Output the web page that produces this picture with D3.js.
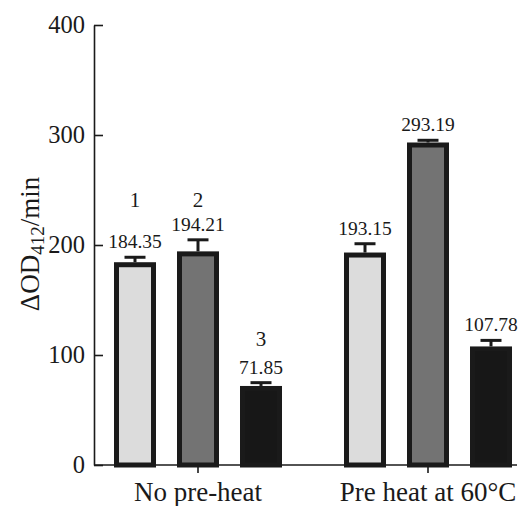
<!DOCTYPE html>
<html>
<head>
<meta charset="utf-8">
<script src="https://cdn.jsdelivr.net/npm/d3@7"></script>
<style>
  body { margin: 0; background: #fff; }
  text { font-family: "Liberation Serif", "DejaVu Serif", serif; fill: #1a1a1a; }
</style>
</head>
<body>
<div id="chart"></div>
<script>
// Data
const groups = ["No pre-heat", "Pre heat at 60°C"];
const series = ["1", "2", "3"];
const seriesColors = ["#dcdcdc", "#737373", "#171717"];
const values = [
  [184.35, 194.21, 71.85],
  [193.15, 293.19, 107.78],
];
const errors = [
  [4.5, 10.5, 3],
  [8, 2, 5.5],
];
// height (in data units) where the series numbers sit above the first group
const seriesLabelAt = [234.5, 234.5, 108];
const yTicks = [0, 100, 200, 300, 400];

// Dimensions
const width = 526;
const height = 506;
const axisX = 94;
const axisEnd = 517;

const svg = d3
  .select("#chart")
  .append("svg")
  .attr("width", width)
  .attr("height", height);

// Scales
const yScale = d3.scaleLinear().domain([0, 400]).range([465, 25]);

const xGroup = d3.scaleBand().domain(groups).range([83, 543]);

const xInner = d3
  .scaleBand()
  .domain(series)
  .range([-84, 84])
  .paddingInner(1 / 3)
  .paddingOuter(0);

const ink = "#1a1a1a";

// Y axis
const yAxis = d3
  .axisLeft(yScale)
  .tickValues(yTicks)
  .tickSizeInner(-9)
  .tickSizeOuter(0)
  .tickPadding(9);

const yG = svg
  .append("g")
  .attr("transform", `translate(${axisX},0)`)
  .call(yAxis);
yG.select(".domain").attr("stroke", ink).attr("stroke-width", 1.6);
yG.selectAll(".tick line").attr("stroke", ink).attr("stroke-width", 1.6);
yG.selectAll(".tick text")
  .style("font-family", "Liberation Serif")
  .style("font-size", "24.5px")
  .attr("fill", ink);

// X axis
const xAxis = d3.axisBottom(xGroup).tickSizeInner(8).tickSizeOuter(0).tickPadding(9);
const xG = svg
  .append("g")
  .attr("transform", `translate(0,${yScale(0)})`)
  .call(xAxis);
xG.select(".domain").remove();
xG.append("line")
  .attr("x1", axisX)
  .attr("x2", axisEnd)
  .attr("stroke", ink)
  .attr("stroke-width", 1.6);
xG.selectAll(".tick line").attr("stroke", ink).attr("stroke-width", 1.6);
xG.selectAll(".tick text")
  .style("font-family", "Liberation Serif")
  .style("font-size", "27px")
  .attr("fill", ink);

// Bars
const rows = [];
groups.forEach((g, gi) => {
  series.forEach((s, si) => {
    rows.push({ group: g, series: s, si, gi, value: values[gi][si], err: errors[gi][si] });
  });
});

const barX = (d) => xGroup(d.group) + xGroup.bandwidth() / 2 + xInner(d.series);
const barMid = (d) => barX(d) + xInner.bandwidth() / 2;
const sw = 5;

const barG = svg.append("g");

// error bars (drawn first so the bar outline covers the stem)
barG
  .selectAll(".err")
  .data(rows)
  .join("line")
  .attr("x1", barMid)
  .attr("x2", barMid)
  .attr("y1", (d) => yScale(d.value))
  .attr("y2", (d) => yScale(d.value + d.err))
  .attr("stroke", ink)
  .attr("stroke-width", 3);

barG
  .selectAll(".cap")
  .data(rows)
  .join("line")
  .attr("x1", (d) => barMid(d) - 10.5)
  .attr("x2", (d) => barMid(d) + 10.5)
  .attr("y1", (d) => yScale(d.value + d.err))
  .attr("y2", (d) => yScale(d.value + d.err))
  .attr("stroke", ink)
  .attr("stroke-width", 3);

barG
  .selectAll(".bar")
  .data(rows)
  .join("rect")
  .attr("x", (d) => barX(d) + sw / 2)
  .attr("y", (d) => yScale(d.value) + sw / 2)
  .attr("width", xInner.bandwidth() - sw)
  .attr("height", (d) => yScale(0) - yScale(d.value) - sw / 2)
  .attr("fill", (d) => seriesColors[d.si])
  .attr("stroke", ink)
  .attr("stroke-width", sw);

// value labels
barG
  .selectAll(".val")
  .data(rows)
  .join("text")
  .attr("x", barMid)
  .attr("y", (d) => yScale(d.value + d.err) - 9)
  .attr("text-anchor", "middle")
  .style("font-size", "19.5px")
  .text((d) => d.value.toFixed(2));

// series numbers above the first group
svg
  .append("g")
  .selectAll("text")
  .data(series)
  .join("text")
  .attr("x", (s, i) => barMid({ group: groups[0], series: s }))
  .attr("y", (s, i) => yScale(seriesLabelAt[i]))
  .attr("text-anchor", "middle")
  .style("font-size", "21px")
  .text((s) => s);

// Y axis title
const title = svg
  .append("text")
  .attr("transform", "translate(39,244) rotate(-90)")
  .attr("text-anchor", "middle")
  .style("font-size", "27px");
title.append("tspan").text("ΔOD");
title.append("tspan").attr("dy", 5).style("font-size", "19px").text("412");
title.append("tspan").attr("dy", -5).text("/min");
</script>
</body>
</html>
